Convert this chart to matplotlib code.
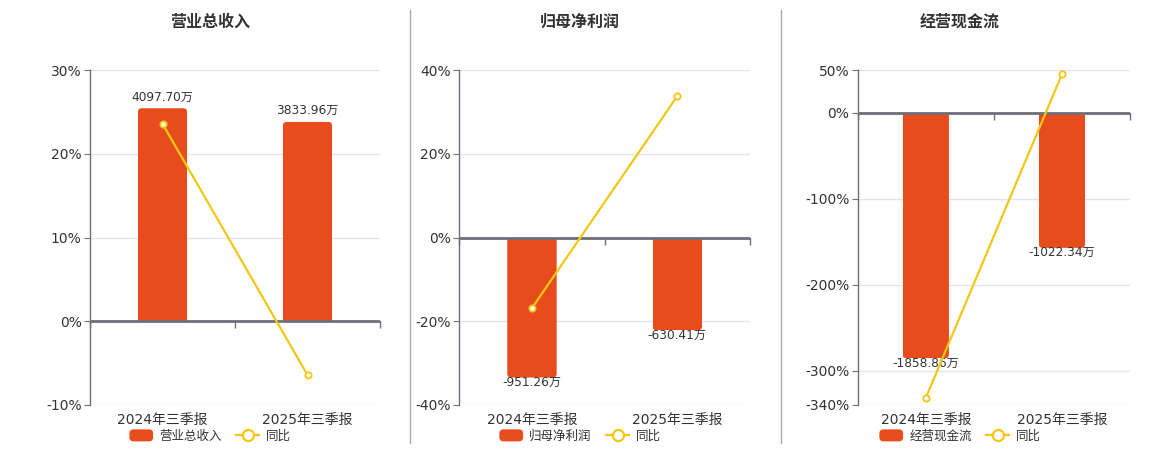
import matplotlib
matplotlib.use('Agg')
import matplotlib.pyplot as plt
from matplotlib.patches import FancyBboxPatch, Patch
from matplotlib.lines import Line2D
from matplotlib.legend_handler import HandlerPatch
from matplotlib.transforms import blended_transform_factory

plt.rcParams['font.family'] = ['DejaVu Sans', 'Noto Sans CJK SC']

# ---------------- data ----------------
categories = ['2024年三季报', '2025年三季报']
titles = ['营业总收入', '归母净利润', '经营现金流']

revenue = [4097.70, 3833.96]
revenue_yoy = [23.58, -6.41]
profit = [-951.26, -630.41]
profit_yoy = [-16.86, 33.77]
cashflow = [-1858.86, -1022.34]
cashflow_yoy = [-331.8, 45.0]

pct_ticks1 = [-10, 0, 10, 20, 30]
pct_ticks2 = [-40, -20, 0, 20, 40]
pct_ticks3 = [-340, -300, -200, -100, 0, 50]

bar_lims1 = (-1611, 4833)
bar_lims2 = (-1138, 1138)
bar_lims3 = (-2213, 325.5)

panels = [
    (titles[0], revenue, revenue_yoy, pct_ticks1, bar_lims1),
    (titles[1], profit, profit_yoy, pct_ticks2, bar_lims2),
    (titles[2], cashflow, cashflow_yoy, pct_ticks3, bar_lims3),
]

# ---------------- style ----------------
W, H = 1160, 450
BAR_C = '#E84C1C'
LINE_C = '#F4C715'
AX_C = '#6E7079'
GRID_C = '#E0E6F1'
TXT_C = '#333333'

# panel pixel geometry: (left, right) of plotting area; top/bottom shared
px_lr = [(90, 380), (459.3, 750), (857.7, 1130)]
px_top, px_bot = 70, 405
title_x = [210, 580, 960]
seps = [410, 781]

fig = plt.figure(figsize=(W / 100, H / 100), dpi=100)


def round_patch(legend, orig_handle, xdescent, ydescent, width, height, fontsize):
    return FancyBboxPatch((-xdescent, -ydescent), width, height,
                          boxstyle='round,pad=0,rounding_size=3',
                          facecolor=orig_handle.get_facecolor(), edgecolor='none')


for i, (title, bars, yoy, pticks, blims) in enumerate(panels):
    l, r = px_lr[i]
    rect = [l / W, 1 - px_bot / H, (r - l) / W, (px_bot - px_top) / H]
    ax = fig.add_axes(rect)
    bx = ax.twinx()
    lx = ax.twinx()
    xs = list(range(len(categories)))

    for a in (ax, bx, lx):
        a.set_xlim(-0.5, len(categories) - 0.5)
    ax.set_ylim(min(pticks), max(pticks))
    lx.set_ylim(min(pticks), max(pticks))
    bx.set_ylim(*blims)

    # base axis: ticks, grid
    ax.set_yticks(pticks)
    ax.set_yticklabels([f'{t}%' for t in pticks])
    ax.tick_params(axis='y', length=4, color=AX_C, labelsize=10, labelcolor=TXT_C, pad=2)
    ax.yaxis.grid(True, color=GRID_C, lw=1)
    ax.set_axisbelow(True)
    for s in ('top', 'right'):
        ax.spines[s].set_visible(False)
    ax.spines['left'].set_color(AX_C)
    ax.spines['left'].set_linewidth(1)
    ax.spines['bottom'].set_position(('data', 0))
    ax.spines['bottom'].set_color(AX_C)
    ax.set_xticks([x - 0.5 for x in xs] + [len(xs) - 0.5])
    ax.set_xticklabels([])
    ax.tick_params(axis='x', length=5, color=AX_C, width=1, direction='out')

    trans = blended_transform_factory(ax.transData, ax.transAxes)
    for x, c in zip(xs, categories):
        ax.text(x, -0.045, c, transform=trans, ha='center', va='center',
                fontsize=10, color=TXT_C)

    # bars layer
    for a in (bx, lx):
        a.set_axis_off()
    x0, y0 = bx.transData.transform((0, 0))
    x1, y1 = bx.transData.transform((1, 1))
    xpp = 1.0 / (x1 - x0)
    ypp = 1.0 / (y1 - y0)
    r_px = 4
    bar_w = 0.34
    brects = bx.bar(xs, bars, bar_w, color=BAR_C, linewidth=0)
    for rc, v in zip(brects, bars):
        rc.set_visible(False)
        bxl = rc.get_x()
        ext = 3 * r_px * ypp
        if v >= 0:
            y_start, hh = -ext, v + ext
        else:
            y_start, hh = v, -v + ext
        p = FancyBboxPatch((bxl, y_start), bar_w, hh,
                           boxstyle=f'round,pad=0,rounding_size={r_px * xpp}',
                           mutation_aspect=ypp / xpp,
                           facecolor=BAR_C, edgecolor='none')
        bx.add_patch(p)
        p.set_clip_path(rc)
        if v >= 0:
            bx.annotate(f'{v:.2f}万', (rc.get_x() + bar_w / 2, v), xytext=(0, 8),
                        textcoords='offset points', ha='center', va='center',
                        fontsize=8.7, color=TXT_C)
        else:
            bx.annotate(f'{v:.2f}万', (rc.get_x() + bar_w / 2, v), xytext=(0, -3.5),
                        textcoords='offset points', ha='center', va='center',
                        fontsize=8.7, color=TXT_C)

    # line layer
    lx.axhline(0, color=AX_C, lw=2, zorder=1)
    lx.plot(xs, yoy, color=LINE_C, lw=1.6, marker='o', markersize=4.5,
            markerfacecolor='white', markeredgecolor=LINE_C, markeredgewidth=1.3,
            zorder=3)

    # title
    fig.text(title_x[i] / W, 1 - 22 / H, title, ha='center', va='center',
             fontsize=11.5, fontweight='bold', color=TXT_C)

    # legend
    handles = [Patch(facecolor=BAR_C, edgecolor='none', label=title),
               Line2D([], [], color=LINE_C, lw=1.6, marker='o', markersize=8,
                      markerfacecolor='white', markeredgecolor=LINE_C,
                      markeredgewidth=1.6, label='同比')]
    fig.legend(handles=handles, loc='center', ncol=2,
               bbox_to_anchor=(title_x[i] / W, 1 - 436 / H),
               frameon=False, fontsize=9, labelcolor=TXT_C,
               handlelength=1.9, handleheight=1.1, handletextpad=0.5,
               columnspacing=1.1, borderpad=0,
               handler_map={Patch: HandlerPatch(patch_func=round_patch)})

for sx in seps:
    fig.add_artist(Line2D([sx / W, sx / W], [1 - 10 / H, 1 - 443 / H],
                          color='#AAAAAA', lw=1, transform=fig.transFigure))

fig.savefig('out.png', dpi=100)
